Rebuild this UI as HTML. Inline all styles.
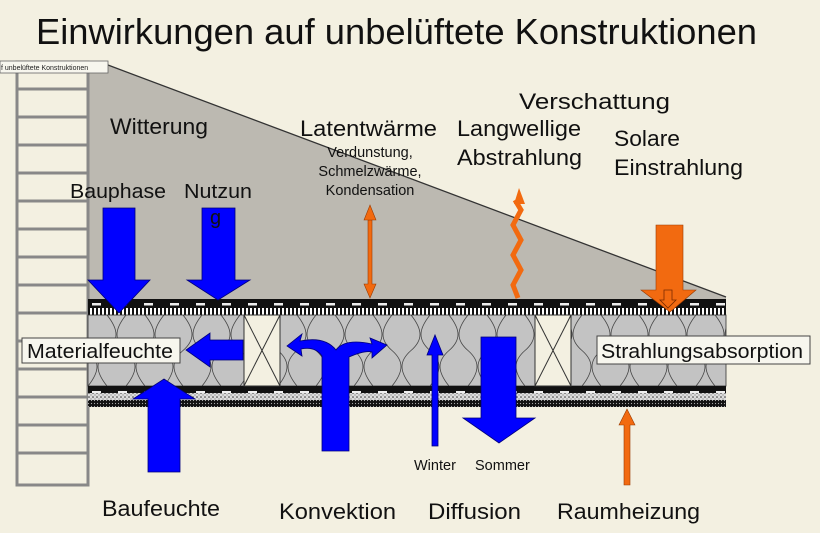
<!DOCTYPE html>
<html><head><meta charset="utf-8"><style>
html,body{margin:0;padding:0;background:#f3f0e1;}
svg{display:block;font-family:"Liberation Sans",sans-serif;}
</style></head><body>
<svg width="820" height="533" viewBox="0 0 820 533" xmlns="http://www.w3.org/2000/svg">
<defs>
<pattern id="ins" x="88" y="315" width="38" height="71" patternUnits="userSpaceOnUse">
<rect width="38" height="71" fill="#c3c3c3"/>
<path d="M0 0 C-12 15,-12 25,0 35.5 C12 46,12 56,0 71 M38 0 C26 15,26 25,38 35.5 C50 46,50 56,38 71 M19 0 C31 15,31 25,19 35.5 C7 46,7 56,19 71" fill="none" stroke="#444" stroke-width="0.8"/>
</pattern>
<pattern id="dash" x="88" y="300" width="26" height="8" patternUnits="userSpaceOnUse">
<rect width="26" height="8" fill="#111"/><rect x="4" y="3" width="9" height="2.5" fill="#eee"/>
</pattern>
<pattern id="strip" x="88" y="308" width="4" height="7" patternUnits="userSpaceOnUse">
<rect width="4" height="7" fill="#fff"/><rect width="2" height="7" fill="#111"/>
</pattern>
<pattern id="dot" x="0" y="0" width="4" height="4" patternUnits="userSpaceOnUse">
<rect width="4" height="4" fill="#ddd"/><circle cx="1" cy="1" r="0.8" fill="#333"/><circle cx="3" cy="3" r="0.6" fill="#777"/>
</pattern>
<pattern id="dkdot" x="0" y="0" width="3" height="3" patternUnits="userSpaceOnUse">
<rect width="3" height="3" fill="#111"/><circle cx="1.5" cy="1.5" r="0.6" fill="#aaa"/>
</pattern>
</defs>
<text x="36" y="44" font-size="36" fill="#111" textLength="721" lengthAdjust="spacingAndGlyphs">Einwirkungen auf unbelüftete Konstruktionen</text>
<polygon points="100,62 726,297 726,300 88,300 88,62" fill="#bcb9b1"/>
<line x1="100" y1="62" x2="726" y2="297" stroke="#333" stroke-width="1.3"/>
<rect x="17" y="62" width="71" height="423" fill="#f3f0e1" stroke="#888" stroke-width="3"/>
<g stroke="#888" stroke-width="3">
<line x1="17" y1="89" x2="88" y2="89"/><line x1="17" y1="117" x2="88" y2="117"/><line x1="17" y1="145" x2="88" y2="145"/><line x1="17" y1="173" x2="88" y2="173"/><line x1="17" y1="201" x2="88" y2="201"/><line x1="17" y1="229" x2="88" y2="229"/><line x1="17" y1="257" x2="88" y2="257"/><line x1="17" y1="285" x2="88" y2="285"/><line x1="17" y1="313" x2="88" y2="313"/><line x1="17" y1="341" x2="88" y2="341"/><line x1="17" y1="369" x2="88" y2="369"/><line x1="17" y1="397" x2="88" y2="397"/><line x1="17" y1="425" x2="88" y2="425"/><line x1="17" y1="453" x2="88" y2="453"/>
</g>
<rect x="0" y="61" width="108" height="12" fill="#f7f6ee" stroke="#666" stroke-width="0.8"/>
<text x="1" y="70" font-size="7" fill="#222">f unbelüftete Konstruktionen</text>
<rect x="88" y="299" width="638" height="9" fill="url(#dash)"/>
<rect x="88" y="308" width="638" height="7" fill="url(#strip)"/>
<rect x="88" y="315" width="638" height="71" fill="url(#ins)" stroke="#333" stroke-width="0.8"/>
<rect x="88" y="386" width="638" height="7" fill="url(#dash)"/>
<rect x="88" y="393" width="638" height="7" fill="url(#dot)"/>
<rect x="88" y="400" width="638" height="7" fill="url(#dkdot)"/>
<g fill="#f3f0e1" stroke="#333" stroke-width="1">
<rect x="244" y="315" width="36" height="71"/><line x1="244" y1="315" x2="280" y2="386"/><line x1="280" y1="315" x2="244" y2="386"/>
<rect x="535" y="315" width="36" height="71"/><line x1="535" y1="315" x2="571" y2="386"/><line x1="571" y1="315" x2="535" y2="386"/>
</g>
<g fill="#0000ff" stroke="#00007a" stroke-width="0.8">
<polygon points="103,208 135,208 135,280 150,280 119,313 88,280 103,280"/>
<polygon points="202,208 235,208 235,280 250,280 218,300 187,280 202,280"/>
<polygon points="243,340 210,340 210,333 186,350 210,367 210,360 243,360"/>
<polygon points="148,472 180,472 180,399 195,399 164,379 133,399 148,399"/>
<polygon points="481,337 516,337 516,418 535,418 499,443 463,418 481,418"/>
<polygon points="432,446 438,446 438,355 443,355 435,335 427,355 432,355"/>
<path d="M322,451 L349,451 L349,357 Q365,350 372,352 L372,358 L387,345 L370,338 L372,344 Q345,338 336,350 Q325,336 300,341 L302,334 L287,346 L302,356 L301,349 Q315,346 322,356 Z"/>
</g>
<g fill="#f26a10" stroke="#9a3a00" stroke-width="0.6">
<polygon points="368,220 372,220 372,284 376,284 370,298 364,284 368,284"/>
<polygon points="364,220 370,205 376,220"/>
<polygon points="656,225 683,225 683,290 696,290 670,312 641,290 656,290"/>
<polygon points="624,485 630,485 630,425 635,425 627,409 619,425 624,425"/>
</g>
<polygon points="664,290 672,290 672,300 676,300 668,308 660,300 664,300" fill="none" stroke="#7a2a00" stroke-width="0.8"/>
<path d="M518,298 L513,285 L521,270 L513,255 L521,240 L513,225 L521,210 L515,200" fill="none" stroke="#f26a10" stroke-width="5"/>
<polygon points="514,204 519,188 525,204" fill="#f26a10"/>
<g fill="#111" font-size="22">
<text x="110" y="134" textLength="98" lengthAdjust="spacingAndGlyphs">Witterung</text>
<text x="70" y="198" font-size="20" textLength="96" lengthAdjust="spacingAndGlyphs">Bauphase</text>
<text x="184" y="198" font-size="20" textLength="68" lengthAdjust="spacingAndGlyphs">Nutzun</text>
<text x="210" y="224" font-size="20">g</text>
<text x="300" y="136" textLength="137" lengthAdjust="spacingAndGlyphs">Latentwärme</text>
<text x="370" y="157" font-size="14.5" text-anchor="middle">Verdunstung,</text>
<text x="370" y="176" font-size="14.5" text-anchor="middle">Schmelzwärme,</text>
<text x="370" y="195" font-size="14.5" text-anchor="middle">Kondensation</text>
<text x="519" y="109" textLength="151" lengthAdjust="spacingAndGlyphs">Verschattung</text>
<text x="457" y="136" textLength="124" lengthAdjust="spacingAndGlyphs">Langwellige</text>
<text x="457" y="165" textLength="125" lengthAdjust="spacingAndGlyphs">Abstrahlung</text>
<text x="614" y="146" textLength="66" lengthAdjust="spacingAndGlyphs">Solare</text>
<text x="614" y="175" textLength="129" lengthAdjust="spacingAndGlyphs">Einstrahlung</text>
<text x="102" y="516" textLength="118" lengthAdjust="spacingAndGlyphs">Baufeuchte</text>
<text x="279" y="519" textLength="117" lengthAdjust="spacingAndGlyphs">Konvektion</text>
<text x="428" y="519" textLength="93" lengthAdjust="spacingAndGlyphs">Diffusion</text>
<text x="557" y="519" textLength="143" lengthAdjust="spacingAndGlyphs">Raumheizung</text>
<text x="414" y="470" font-size="14.5">Winter</text>
<text x="475" y="470" font-size="14.5">Sommer</text>
</g>
<rect x="22" y="338" width="158" height="25" fill="#f7f6ee" stroke="#444" stroke-width="1"/>
<text x="27" y="358" font-size="20" fill="#111" textLength="146" lengthAdjust="spacingAndGlyphs">Materialfeuchte</text>
<rect x="597" y="336" width="213" height="28" fill="#f7f6ee" stroke="#444" stroke-width="1"/>
<text x="601" y="358" font-size="20" fill="#111" textLength="202" lengthAdjust="spacingAndGlyphs">Strahlungsabsorption</text>
</svg>
</body></html>
